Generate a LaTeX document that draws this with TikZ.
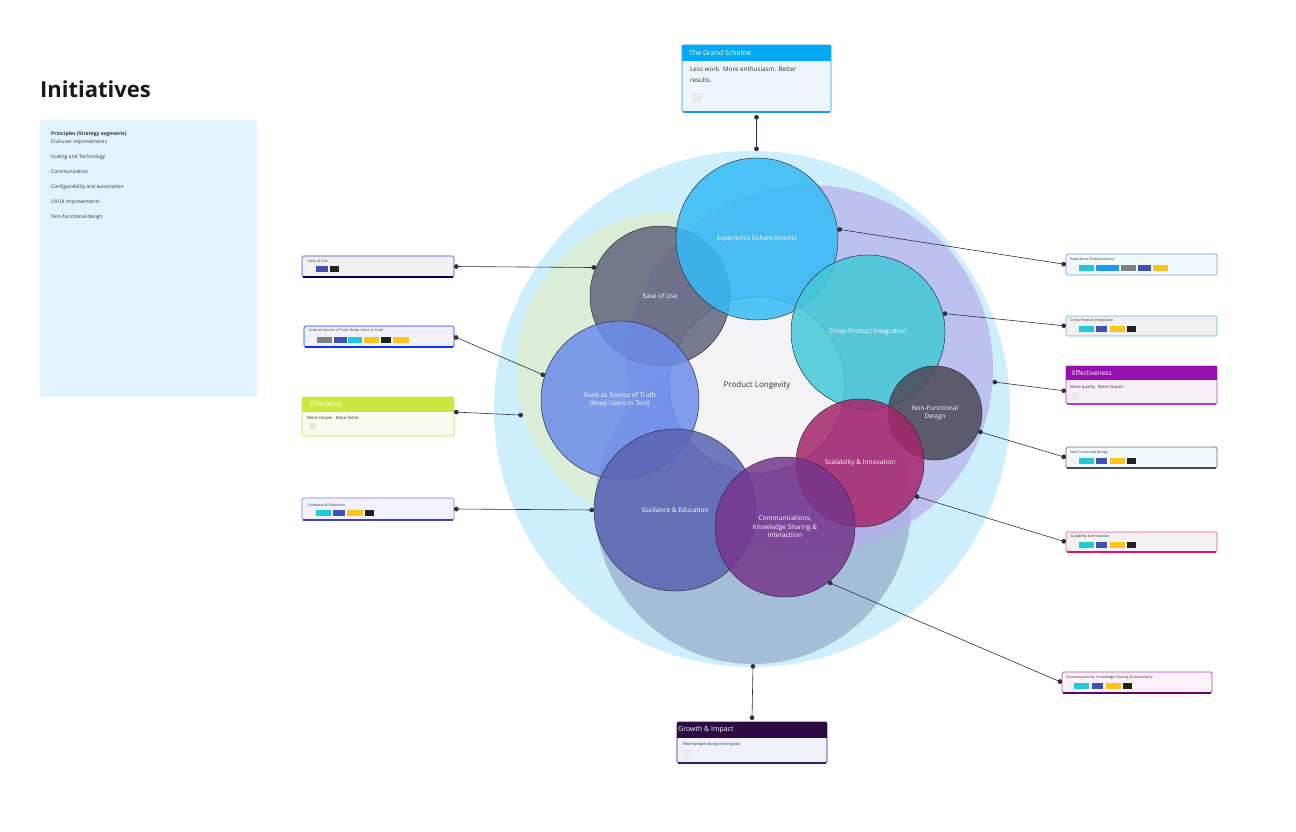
\documentclass[tikz,border=0pt]{standalone}
\usepackage{fontspec}
\setmainfont{Open Sans}
\usetikzlibrary{arrows.meta}
\definecolor{cOuter}{HTML}{CDEEFC}
\definecolor{cGreen}{HTML}{DCEFD4}
\definecolor{cPurple}{HTML}{B6B0EC}
\definecolor{cGrey}{HTML}{98AECB}
\definecolor{cCenter}{HTML}{F8F8F8}
\definecolor{cExp}{HTML}{35BBF5}
\definecolor{cEase}{HTML}{61657C}
\definecolor{cEvals}{HTML}{6B8DEC}
\definecolor{cGuid}{HTML}{5A64B2}
\definecolor{cComm}{HTML}{76368D}
\definecolor{cScal}{HTML}{A6266C}
\definecolor{cNF}{HTML}{4C4A55}
\definecolor{cCross}{HTML}{43C9D8}
\definecolor{cLine}{HTML}{2E2E3E}
\definecolor{cTxt}{HTML}{333333}
\definecolor{sWhite}{HTML}{F2F2F4}
\definecolor{sCyan}{HTML}{1ECAD8}
\definecolor{sBlue}{HTML}{4050B5}
\definecolor{sLBlue}{HTML}{2196F3}
\definecolor{sBlack}{HTML}{222222}
\definecolor{sYellow}{HTML}{FCC419}
\definecolor{sGrey}{HTML}{808080}
\definecolor{sPlace}{HTML}{E9E9EC}
\definecolor{panel}{HTML}{E1F3FC}
\definecolor{hGrand}{HTML}{03A9F4}
\definecolor{bGrand}{HTML}{1E9BE8}
\definecolor{fGrand}{HTML}{EEF5FC}
\definecolor{hEffic}{HTML}{CDE640}
\definecolor{fEffic}{HTML}{F9FBEE}
\definecolor{hEffect}{HTML}{9510AC}
\definecolor{bEffect}{HTML}{B23DC6}
\definecolor{fEffect}{HTML}{F8EEF9}
\definecolor{hGrowth}{HTML}{2B0A45}
\definecolor{bGrowth}{HTML}{3C1D63}
\definecolor{fGrowth}{HTML}{EEF0FC}
\newcommand{\sw}[4]{\fill[#4] (#1,#3) rectangle (#2,#3+6);}
\tikzset{
  bigc/.style={circle, inner sep=0pt, outer sep=0pt, draw=none},
  smallc/.style={circle, inner sep=0pt, outer sep=0pt, draw=cLine, line width=0.5pt, fill opacity=0.85, text opacity=1, text=white, align=center, font=\fontsize{6.5}{8.5}\selectfont},
  boxn/.style={rectangle, rounded corners=1.5pt, inner sep=0pt, outer sep=0pt, anchor=north west, line width=0.7pt},
  hdrn/.style={rectangle, inner sep=0pt, outer sep=0pt, anchor=north west, draw=none},
  tiny/.style={anchor=west, inner sep=0pt, text=cTxt, font=\fontsize{3.6}{4.4}\selectfont},
  small/.style={anchor=west, inner sep=0pt, text=cTxt, font=\fontsize{4.3}{5}\selectfont},
  hdrtxt/.style={anchor=west, inner sep=0pt, text=white, font=\fontsize{7}{8}\selectfont},
  paneltxt/.style={anchor=west, inner sep=0pt, text=cTxt, font=\fontsize{5}{6}\selectfont},
  conn/.style={draw=cLine, line width=0.6pt, {Circle[length=4.6pt,width=4.6pt]}-{Circle[length=4.6pt,width=4.6pt]}},
}
\begin{document}
\begin{tikzpicture}[x=1pt,y=-1pt]
\useasboundingbox (0,0) rectangle (1296,832);
\fill[white] (0,0) rectangle (1296,832);

% left title and panel
\node[anchor=west, inner sep=0pt, text=black!90, font=\fontsize{22}{26}\bfseries] (title) at (40,89) {Initiatives};
\node[rectangle, fill=panel, anchor=north west, inner sep=0pt, minimum width=217pt, minimum height=277pt] (panel) at (40,120) {};
\node[paneltxt, font=\fontsize{5}{6}\bfseries] (p0) at (51,134) {Principles (Strategy segments)};
\node[paneltxt] (p1) at (51,142) {End-user improvements};
\node[paneltxt] (p2) at (51,157) {Scaling and Technology};
\node[paneltxt] (p3) at (51,172) {Communication};
\node[paneltxt] (p4) at (51,187) {Configurability and automation};
\node[paneltxt] (p5) at (51,202) {UX/UI improvements};
\node[paneltxt] (p6) at (51,217) {Non-functional design};

% big background circles
\node[bigc, fill=cOuter, minimum size=516pt] (outer) at (752,409) {};
\node[bigc, fill=cGreen, fill opacity=0.9, minimum size=316pt] (green) at (674,369) {};
\node[bigc, fill=cGrey, fill opacity=0.75, minimum size=316pt] (grey) at (753,506) {};
\node[bigc, fill=cPurple, fill opacity=0.72, minimum size=368pt] (purple) at (809,369) {};
\node[circle, inner sep=0pt, draw=cLine, line width=0.5pt, fill=cCenter, fill opacity=0.93, text opacity=1, text=cTxt, minimum size=176pt, font=\fontsize{8}{10}\selectfont] (center) at (757,385) {Product Longevity};

% initiative circles
\node[smallc, fill=cEase, minimum size=140pt] (ease) at (660,296) {Ease of Use};
\node[smallc, fill=cExp, minimum size=162pt] (exp) at (757,239) {Experience Enhancements};
\node[smallc, fill=cEvals, minimum size=158pt] (evals) at (620,400) {Evals as Source of Truth\\(Keep Users in Tool)};
\node[smallc, fill=cCross, minimum size=154pt] (cross) at (868,332) {Cross-Product Integration};
\node[smallc, fill=cGuid, minimum size=162pt] (guid) at (675,510) {Guidance \& Education};
\node[smallc, fill=cNF, minimum size=94pt] (nf) at (935,413) {Non-Functional\\Design};
\node[smallc, fill=cScal, minimum size=128pt] (scal) at (860,463) {Scalability \& Innovation};
\node[smallc, fill=cComm, minimum size=140pt] (comm) at (785,527) {Communications,\\Knowledge Sharing \&\\Interactiion};

% ---- Grand Scheme box
\node[boxn, draw=bGrand, fill=fGrand, minimum width=149pt, minimum height=67pt] (grandbox) at (682,45) {};
\node[hdrn, fill=hGrand, minimum width=149pt, minimum height=16pt] (grandhdr) at (682,45) {};
\node[hdrtxt] (grandttl) at (689,53) {The Grand Scheme};
\node[anchor=north west, inner sep=0pt, text=cTxt, align=left, font=\fontsize{6.3}{11}\selectfont] (grandtxt) at (690,67) {Less work. More enthusiasm. Better\\results.};
\fill[sPlace] (692,93) rectangle (702,102);
\draw[bGrand, line width=1.4pt] (683,112) -- (830,112);

% ---- Growth & Impact box
\node[boxn, draw=bGrowth, fill=fGrowth, minimum width=150pt, minimum height=41pt] (growthbox) at (677,722) {};
\node[hdrn, fill=hGrowth, minimum width=150pt, minimum height=16pt] (growthhdr) at (677,722) {};
\node[hdrtxt] (growthttl) at (678,730) {Growth \& Impact};
\node[small, font=\fontsize{4}{5}\selectfont] (growthtxt) at (683,744) {More people doing more good};
\fill[sPlace] (684,750) rectangle (691,757);
\draw[bGrowth, line width=1.3pt] (678,763) -- (826,763);

% ---- Efficiency box
\node[boxn, draw=hEffic, fill=fEffic, minimum width=152pt, minimum height=39pt] (efficbox) at (302,397) {};
\node[hdrn, fill=hEffic, minimum width=152pt, minimum height=15pt] (effichdr) at (302,397) {};
\node[hdrtxt, font=\fontsize{6.8}{8}\selectfont] (efficttl) at (310,404.5) {Effeciency};
\node[small] (effictxt) at (307,418) {More simple . More faster.};
\fill[sPlace] (309,423) rectangle (316,430);

% ---- Effectiveness box
\node[boxn, draw=bEffect, fill=fEffect, minimum width=151pt, minimum height=38pt] (effectbox) at (1066,366) {};
\node[hdrn, fill=hEffect, minimum width=151pt, minimum height=14pt] (effecthdr) at (1066,366) {};
\node[hdrtxt, font=\fontsize{6.5}{8}\selectfont] (effectttl) at (1072,373) {Effectiveness};
\node[small] (effecttxt) at (1070,387) {More quality. More impact.};
\fill[sPlace] (1072,392) rectangle (1079,399);
\draw[bEffect, line width=1.3pt] (1067,404) -- (1216,404);

% ---- initiative boxes left
\node[boxn, draw=blue!40!gray, fill=gray!12, minimum width=152pt, minimum height=21pt] (easebox) at (302,256) {};
\node[tiny] (easettl) at (308,261) {Ease of Use};
\sw{308}{314}{266}{sWhite}\sw{316}{328}{266}{sBlue}\sw{330}{339}{266}{sBlack}
\draw[blue!30!black, line width=1.2pt] (303,277) -- (453,277);

\node[boxn, draw=blue!75!cyan, fill=blue!6, minimum width=150pt, minimum height=21pt] (evalsbox) at (304,326) {};
\node[tiny] (evalsttl) at (309,331) {Evals as Source of Truth (Keep Users in Tool)};
\sw{309}{315}{337}{sWhite}\sw{317}{332}{337}{sGrey}\sw{334}{347}{337}{sBlue}\sw{348}{362}{337}{sCyan}\sw{364}{379}{337}{sYellow}\sw{381}{391}{337}{sBlack}\sw{393}{409}{337}{sYellow}
\draw[blue!80!cyan, line width=1.2pt] (305,347) -- (453,347);

\node[boxn, draw=blue!45!gray!70, fill=blue!5, minimum width=152pt, minimum height=22pt] (guidbox) at (302,498) {};
\node[tiny] (guidttl) at (308,505) {Guidance \& Education};
\sw{308}{314}{510}{sWhite}\sw{316}{331}{510}{sCyan}\sw{333}{345}{510}{sBlue}\sw{347}{363}{510}{sYellow}\sw{365}{374}{510}{sBlack}
\draw[blue!50!gray, line width=1.2pt] (303,520) -- (453,520);

% ---- initiative boxes right
\node[boxn, draw=cyan!55!blue!60, fill=cyan!6, minimum width=151pt, minimum height=21pt] (expbox) at (1066,254) {};
\node[tiny] (expttl) at (1070,260) {Experience Enhancements};
\sw{1070}{1077}{265}{sWhite}\sw{1079}{1094}{265}{sCyan}\sw{1096}{1119}{265}{sLBlue}\sw{1121}{1136}{265}{sGrey}\sw{1138}{1151}{265}{sBlue}\sw{1153}{1168}{265}{sYellow}

\node[boxn, draw=cyan!65!teal!70, fill=gray!12, minimum width=151pt, minimum height=20pt] (crossbox) at (1066,316) {};
\node[tiny] (crossttl) at (1070,321) {Cross-Product Integration};
\sw{1070}{1077}{326}{sWhite}\sw{1079}{1094}{326}{sCyan}\sw{1096}{1107}{326}{sBlue}\sw{1110}{1125}{326}{sYellow}\sw{1127}{1136}{326}{sBlack}

\node[boxn, draw=gray!80!black, fill=cyan!6, minimum width=151pt, minimum height=21pt] (nfbox) at (1066,447) {};
\node[tiny] (nfttl) at (1070,453) {Non-Functional Design};
\sw{1070}{1077}{458}{sWhite}\sw{1079}{1094}{458}{sCyan}\sw{1096}{1107}{458}{sBlue}\sw{1110}{1125}{458}{sYellow}\sw{1127}{1136}{458}{sBlack}
\draw[gray!60!black, line width=1.2pt] (1067,468) -- (1216,468);

\node[boxn, draw=magenta!70!red!70, fill=gray!10, minimum width=151pt, minimum height=20pt] (scalbox) at (1066,532) {};
\node[tiny] (scalttl) at (1070,537) {Scalability \& Innovation};
\sw{1070}{1077}{542}{sWhite}\sw{1079}{1094}{542}{sCyan}\sw{1096}{1107}{542}{sBlue}\sw{1110}{1125}{542}{sYellow}\sw{1127}{1136}{542}{sBlack}
\draw[magenta!70!red, line width=1.2pt] (1067,552) -- (1216,552);

\node[boxn, draw=violet!70, fill=magenta!6, minimum width=150pt, minimum height=21pt] (commbox) at (1062,672) {};
\node[tiny] (commttl) at (1066,678) {Communications, Knowledge Sharing \& Interactivity};
\sw{1067}{1072}{683}{sWhite}\sw{1074}{1089}{683}{sCyan}\sw{1092}{1103}{683}{sBlue}\sw{1106}{1121}{683}{sYellow}\sw{1123}{1132}{683}{sBlack}
\draw[violet!80!black, line width=1.2pt] (1063,693) -- (1211,693);

% ---- connectors
\draw[conn] ([yshift=-3pt]grandbox.south) -- (outer.89);
\draw[conn] (grey.-90) -- ([yshift=2pt]growthbox.north);
\draw[conn] (easebox.east) -- (ease.156);
\draw[conn] (evalsbox.east) -- (evals.162);
\draw[conn] ([yshift=4.5pt]efficbox.east) -- (green.197);
\draw[conn] (guidbox.east) -- (guid.180);
\draw[conn] (expbox.west) -- (exp.7.7);
\draw[conn] (crossbox.west) -- (cross.14);
\draw[conn] ([yshift=-6pt]effectbox.west) -- (purple.-4);
\draw[conn] (nfbox.west) -- (nf.-23);
\draw[conn] (scalbox.west) -- (scal.-31);
\draw[conn] (commbox.west) -- (comm.-52);
\end{tikzpicture}
\end{document}
